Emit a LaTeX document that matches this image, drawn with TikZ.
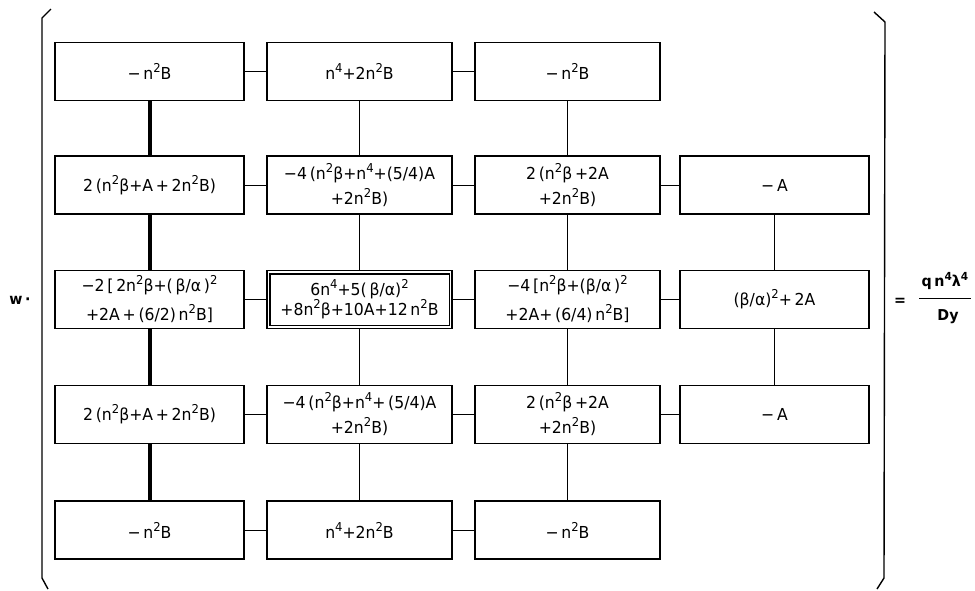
\documentclass[tikz,border=0pt]{standalone}
\usepackage{fontspec}
\usepackage{graphicx}
\setmainfont[FakeStretch=0.95]{DejaVu Sans}
\newcommand\su[1]{\raisebox{0.42em}{\scalebox{0.74}{#1}}}
\begin{document}
\begin{tikzpicture}[x=1pt,y=-1pt,
 box/.style={draw,line width=1.3pt,minimum width=185pt,minimum height=58pt,inner sep=2pt,align=center,font=\fontsize{16.5}{25}\selectfont},
 wbox/.style={box,minimum width=189pt},
 tallbox/.style={font=\fontsize{16.5}{29}\selectfont},
 tightbox/.style={font=\fontsize{16.5}{20}\selectfont},
 thinl/.style={line width=1pt},
 thickl/.style={line width=4pt},
 side/.style={font=\fontsize{15}{17}\selectfont\bfseries,inner sep=1pt}]
\useasboundingbox (0,0) rectangle (975,590);
\fill[white] (0,0) rectangle (975,590);
% row 1
\node[wbox] (c11) at (149.5,71.5) {−\,n\su{2}B};
\node[box]  (c12) at (359.5,71.5) {n\su{4}+2n\su{2}B};
\node[box]  (c13) at (567.5,71.5) {−\,n\su{2}B};
% row 2
\node[wbox] (c21) at (149.5,185) {2\,(n\su{2}β+A\,+\,2n\su{2}B)};
\node[box]  (c22) at (359.5,185) {−4\,(n\su{2}β+n\su{4}+(5/4)A\\+2n\su{2}B)};
\node[box]  (c23) at (567.5,185) {2\,(n\su{2}β\,+2A\\+2n\su{2}B)};
\node[wbox] (c24) at (774.5,185) {−\,A};
% row 3
\node[wbox,tallbox] (c31) at (149.5,299.5) {−2\,[\,2n\su{2}β+(\,β/α\,)\su{2}\\+2A\,+\,(6/2)\,n\su{2}B]};
\node[box,tightbox]  (c32) at (359.5,299.5) {6n\su{4}+5(\,β/α)\su{2}\\+8n\su{2}β+10A+12\,n\su{2}B};
\node[box,tallbox]  (c33) at (567.5,299.5) {−4\,[n\su{2}β+(β/α\,)\su{2}\\+2A+\,(6/4)\,n\su{2}B]};
\node[wbox] (c34) at (774.5,299.5) {(β/α)\su{2}+\,2A};
% row 4
\node[wbox] (c41) at (149.5,414.5) {2\,(n\su{2}β+A\,+\,2n\su{2}B)};
\node[box]  (c42) at (359.5,414.5) {−4\,(n\su{2}β+n\su{4}+\,(5/4)A\\+2n\su{2}B)};
\node[box]  (c43) at (567.5,414.5) {2\,(n\su{2}β\,+2A\\+2n\su{2}B)};
\node[wbox] (c44) at (774.5,414.5) {−\,A};
% row 5
\node[wbox] (c51) at (149.5,530) {−\,n\su{2}B};
\node[box]  (c52) at (359.5,530) {n\su{4}+2n\su{2}B};
\node[box]  (c53) at (567.5,530) {−\,n\su{2}B};
% inner border of centre box
\draw[line width=1.3pt] ([shift={(3.5pt,-4pt)}]c32.north west) rectangle ([shift={(-3.5pt,4pt)}]c32.south east);
% horizontal connectors
\draw[thinl] (c11) -- (c12); \draw[thinl] (c12) -- (c13);
\draw[thinl] (c21) -- (c22); \draw[thinl] (c22) -- (c23); \draw[thinl] (c23) -- (c24);
\draw[thinl] (c31) -- (c32); \draw[thinl] (c32) -- (c33); \draw[thinl] (c33) -- (c34);
\draw[thinl] (c41) -- (c42); \draw[thinl] (c42) -- (c43); \draw[thinl] (c43) -- (c44);
\draw[thinl] (c51) -- (c52); \draw[thinl] (c52) -- (c53);
% vertical connectors
\draw[thickl] (c11) -- (c21); \draw[thickl] (c21) -- (c31); \draw[thickl] (c31) -- (c41); \draw[thickl] (c41) -- (c51);
\draw[thinl] (c12) -- (c22); \draw[thinl] (c22) -- (c32); \draw[thinl] (c32) -- (c42); \draw[thinl] (c42) -- (c52);
\draw[thinl] (c13) -- (c23); \draw[thinl] (c23) -- (c33); \draw[thinl] (c33) -- (c43); \draw[thinl] (c43) -- (c53);
\draw[thinl] (c24) -- (c34); \draw[thinl] (c34) -- (c44);
% brackets
\draw[line width=1.4pt,line join=round] (51,9) -- (42,18) -- (42,578) -- (48,589);
\draw[line width=1.4pt,line join=round] (874,12) -- (885,22) -- (884,578) -- (877,589);
% left and right sides
\node[side] (w) at (20,300) {w\,·};
\node[side] (eq) at (900,302) {=};
\node[side] (num) at (945,281) {q\,n\su{4}λ\su{4}};
\node[side] (den) at (948,317) {Dy};
\draw[line width=1pt] (919,298) -- (971,298);
\end{tikzpicture}
\end{document}
